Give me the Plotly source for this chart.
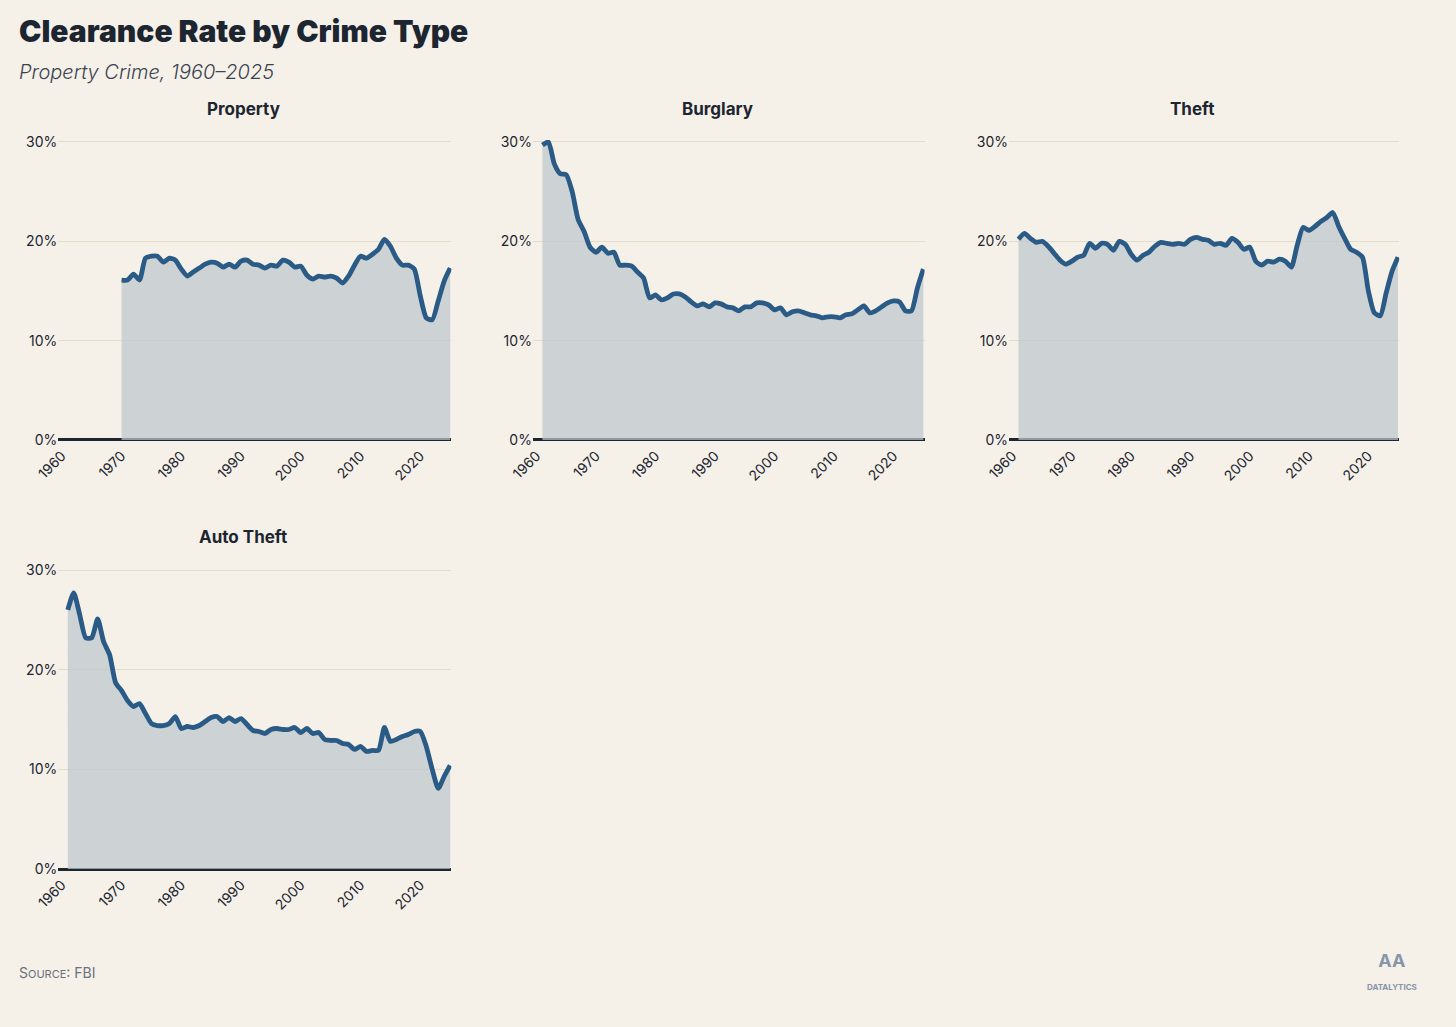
import plotly.graph_objects as go

years_all = list(range(1961, 2026))
years_prop = list(range(1970, 2026))

property_vals = [16.1, 16.1, 16.7, 16.1, 18.3, 18.5, 18.5, 17.9, 18.3, 18.1,
                 17.2, 16.5, 16.9, 17.3, 17.7, 17.9, 17.8, 17.4, 17.7, 17.4,
                 18.0, 18.1, 17.7, 17.6, 17.3, 17.6, 17.5, 18.1, 17.9, 17.4,
                 17.5, 16.6, 16.2, 16.5, 16.4, 16.5, 16.3, 15.8, 16.5, 17.6,
                 18.5, 18.3, 18.7, 19.2, 20.2, 19.5, 18.3, 17.6, 17.6, 17.2,
                 14.5, 12.3, 12.1, 14.0, 16.0, 17.3]
burglary_vals = [29.7, 30.0, 27.8, 26.8, 26.7, 25.0, 22.2, 21.0, 19.4, 18.9,
                 19.4, 18.8, 18.9, 17.6, 17.6, 17.5, 16.9, 16.3, 14.3, 14.6,
                 14.1, 14.3, 14.7, 14.7, 14.4, 13.9, 13.5, 13.7, 13.4, 13.8,
                 13.7, 13.4, 13.3, 13.0, 13.4, 13.4, 13.8, 13.8, 13.6, 13.1,
                 13.3, 12.6, 12.9, 13.0, 12.8, 12.6, 12.5, 12.3, 12.4, 12.4,
                 12.3, 12.6, 12.7, 13.1, 13.5, 12.8, 13.0, 13.4, 13.8, 14.0,
                 13.9, 13.0, 13.0, 15.3, 17.2]
theft_vals = [20.2, 20.8, 20.3, 19.9, 20.0, 19.5, 18.8, 18.1, 17.7, 18.0,
              18.4, 18.6, 19.8, 19.3, 19.8, 19.7, 19.1, 20.0, 19.7, 18.7,
              18.1, 18.6, 18.9, 19.5, 19.9, 19.8, 19.7, 19.8, 19.7, 20.2,
              20.4, 20.2, 20.1, 19.7, 19.8, 19.6, 20.3, 19.9, 19.2, 19.4,
              18.0, 17.6, 18.0, 17.9, 18.2, 18.0, 17.4, 19.6, 21.4, 21.1,
              21.5, 22.0, 22.4, 22.9, 21.5, 20.3, 19.2, 18.9, 18.4, 15.0,
              12.8, 12.5, 14.8, 17.0, 18.4]
auto_vals = [26.0, 27.7, 25.5, 23.2, 23.2, 25.1, 22.8, 21.5, 18.7, 17.9,
             16.9, 16.3, 16.6, 15.6, 14.6, 14.4, 14.4, 14.6, 15.3, 14.1,
             14.3, 14.2, 14.4, 14.8, 15.2, 15.3, 14.8, 15.2, 14.8, 15.1,
             14.5, 13.9, 13.8, 13.6, 14.0, 14.1, 14.0, 14.0, 14.2, 13.7,
             14.1, 13.6, 13.7, 13.0, 12.9, 12.9, 12.6, 12.5, 12.0, 12.3,
             11.8, 11.9, 11.9, 14.2, 12.8, 13.0, 13.3, 13.5, 13.8, 13.8,
             12.3, 10.0, 8.1, 9.3, 10.4]

panels = [
    ("Property", years_prop, property_vals),
    ("Burglary", years_all, burglary_vals),
    ("Theft", years_all, theft_vals),
    ("Auto Theft", years_all, auto_vals),
]
xdoms = [(0.040, 0.310), (0.366, 0.635), (0.693, 0.961), (0.040, 0.310)]
ydoms = [(0.5716, 0.8637)] * 3 + [(0.1538, 0.4469)]

BG = "#f5f0e8"
LINE = "#2a5a86"
TXT = "#1c2530"
fig = go.Figure()
layout = {}
for i, (name, xs, ys) in enumerate(panels):
    n = "" if i == 0 else str(i + 1)
    fig.add_trace(go.Scatter(x=xs, y=ys, mode="lines", fill="tozeroy",
                             fillcolor="rgba(190,198,205,0.72)",
                             line=dict(color=LINE, width=4.8, shape="spline", smoothing=0.6),
                             xaxis="x" + n, yaxis="y" + n, showlegend=False,
                             hoverinfo="skip"))
    layout["xaxis" + n] = dict(domain=list(xdoms[i]), anchor="y" + n, range=[1959.4, 2025.2],
                               tickvals=list(range(1960, 2030, 10)), tickangle=-45,
                               showgrid=False, zeroline=False, showline=False, automargin=False,
                               tickfont=dict(family="Inter", size=14, color=TXT), ticks="",
                               ticklabelstandoff=4)
    layout["yaxis" + n] = dict(domain=list(ydoms[i]), anchor="x" + n, range=[0, 30.2],
                               tickvals=[0, 10, 20, 30], ticktext=["0%", "10%", "20%", "30%"],
                               showgrid=True, gridcolor="#e3dccb", gridwidth=1,
                               zeroline=True, zerolinecolor=TXT, zerolinewidth=3,
                               showline=False, ticks="", automargin=False,
                               tickfont=dict(family="Inter", size=14, color=TXT))
    fig.add_annotation(text=name, xref="paper", yref="paper", xanchor="center", yanchor="middle",
                       x=sum(xdoms[i]) / 2 - 0.008, y=ydoms[i][1] + 0.030, showarrow=False,
                       font=dict(family="Inter", size=17, color=TXT, weight=700))

fig.add_annotation(text="Clearance Rate by Crime Type", xref="paper", yref="paper",
                   x=0.012, y=0.989, xanchor="left", showarrow=False,
                   font=dict(family="Inter", size=30, color=TXT, weight=900))
fig.add_annotation(text="<i>Property Crime, 1960–2025</i>", xref="paper", yref="paper",
                   x=0.012, y=0.944, xanchor="left", showarrow=False,
                   font=dict(family="Inter", size=20, color="#3a4350", weight=300))
fig.add_annotation(text="S<span style='font-size:11px'>OURCE</span>: FBI", xref="paper", yref="paper",
                   x=0.012, y=0.043, xanchor="left", showarrow=False,
                   font=dict(family="Inter", size=14, color="#6b7280"))
fig.add_annotation(text="<b>AA</b><br><b><span style='font-size:8px'>DATALYTICS</span></b>",
                   xref="paper", yref="paper", x=0.956, y=0.032, xanchor="center", showarrow=False,
                   font=dict(family="Inter", size=18, color="#8895a8"))

fig.update_layout(width=1456, height=1027, paper_bgcolor=BG, plot_bgcolor=BG,
                  margin=dict(l=0, r=0, t=0, b=0), **layout)
fig.write_html("out.html", config={"displayModeBar": False},
               post_script="document.body.style.margin='0';document.body.style.background='#f5f0e8';")
